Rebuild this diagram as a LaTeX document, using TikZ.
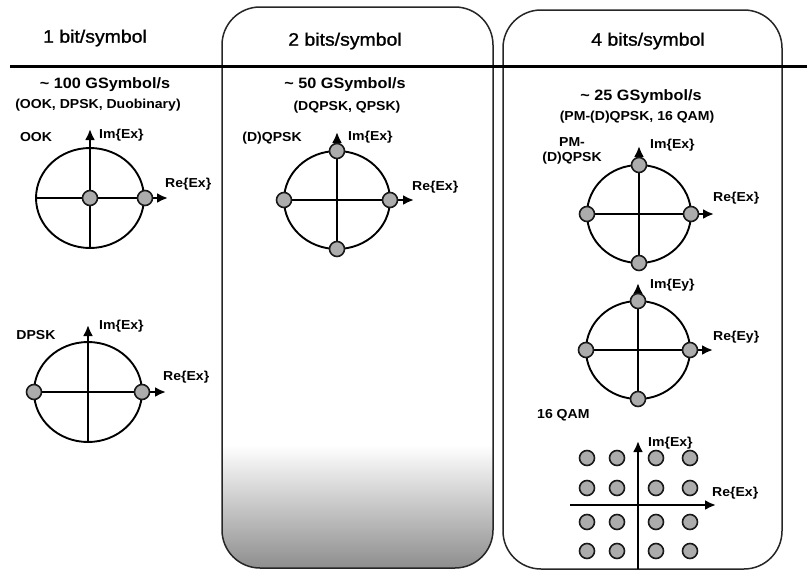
\documentclass[tikz,border=0pt]{standalone}
\usepackage{fontspec}
\setmainfont{Liberation Sans}[FakeStretch=1.08]
\newfontfamily\headfont{Liberation Sans}[FakeStretch=1.08, FakeBold=1.2]
\usetikzlibrary{arrows.meta}
\begin{document}
\begin{tikzpicture}[x=1pt,y=-1pt,
  panel/.style={draw=black!85, line width=1.5pt, rounded corners=38pt},
  rule/.style={draw=black, line width=3pt},
  title/.style={font=\headfont\fontsize{18}{20}\selectfont, inner sep=0pt},
  rate/.style={font=\bfseries\fontsize{15}{17}\selectfont, inner sep=0pt},
  fmt/.style={font=\bfseries\fontsize{13}{15}\selectfont, inner sep=0pt},
  lab/.style={font=\bfseries\fontsize{13}{15}\selectfont, inner sep=0pt, align=center},
  ring/.style={draw=black, line width=1.9pt},
  axis/.style={draw=black, line width=2.8pt, -{Latex[length=11pt,width=10pt]}},
  dot/.style={circle, fill=gray!65, draw=black!90, line width=1.6pt, minimum size=15pt, inner sep=0pt}]

\useasboundingbox (0,0) rectangle (807,574);

% ---------- panels ----------
\begin{scope}
  \clip[rounded corners=38pt] (222,7) rectangle (493,568);
  \shade[top color=white, bottom color=black!45] (222,445) rectangle (493,570);
\end{scope}
\draw[panel] (222,7) rectangle (493,568);
\draw[panel] (503,10) rectangle (782,569);

\coordinate (ruleL) at (10,66);
\coordinate (ruleR) at (807,66);
\draw[rule] (ruleL) -- (ruleR);

% ---------- headings ----------
\node[title] (t1) at (95,38) {1 bit/symbol};
\node[title] (t2) at (345,41) {2 bits/symbol};
\node[title] (t4) at (648,41) {4 bits/symbol};

\node[rate] (r1) at (105,85) {\textasciitilde\ 100 GSymbol/s};
\node[fmt]  (f1) at (98,105) {(OOK, DPSK, Duobinary)};
\node[rate] (r2) at (345,85) {\textasciitilde\ 50 GSymbol/s};
\node[fmt]  (f2) at (347,107) {(DQPSK, QPSK)};
\node[rate] (r4) at (641,97) {\textasciitilde\ 25 GSymbol/s};
\node[fmt]  (f4) at (637,117) {(PM-(D)QPSK, 16 QAM)};

% ---------- OOK ----------
\node[lab] (ookL) at (36,137) {OOK};
\draw[ring] (90,198) ellipse [x radius=54pt, y radius=50pt];
\coordinate (o-w) at (36,198);
\coordinate (o-c) at (90,198);
\coordinate (o-e) at (145,198);
\coordinate (o-re) at (168,198);
\coordinate (o-s) at (90,248);
\coordinate (o-im) at (90,129);
\draw[axis] (o-w) -- (o-re);
\draw[axis] (o-s) -- (o-im);
\node[dot] (o0) at (o-c) {};
\node[dot] (o1) at (o-e) {};
\node[lab, anchor=west] (ookIm) at (99,135) {Im\{Ex\}};
\node[lab, anchor=west] (ookRe) at (165,184) {Re\{Ex\}};

% ---------- DPSK ----------
\node[lab] (dpskL) at (36,335) {DPSK};
\draw[ring] (88,392) ellipse [x radius=54pt, y radius=50pt];
\coordinate (d-w) at (34,392);
\coordinate (d-e) at (142,392);
\coordinate (d-re) at (166,392);
\coordinate (d-s) at (88,442);
\coordinate (d-im) at (88,325);
\draw[axis] (d-w) -- (d-re);
\draw[axis] (d-s) -- (d-im);
\node[dot] (d0) at (d-w) {};
\node[dot] (d1) at (d-e) {};
\node[lab, anchor=west] (dpskIm) at (99,326) {Im\{Ex\}};
\node[lab, anchor=west] (dpskRe) at (163,377) {Re\{Ex\}};

% ---------- (D)QPSK ----------
\node[lab] (qpskL) at (272,138) {(D)QPSK};
\draw[ring] (337,200) ellipse [x radius=53pt, y radius=49pt];
\coordinate (q-n) at (337,151);
\coordinate (q-w) at (284,200);
\coordinate (q-e) at (390,200);
\coordinate (q-s) at (337,249);
\coordinate (q-re) at (414,200);
\coordinate (q-im) at (337,132);
\draw[axis] (q-w) -- (q-re);
\draw[axis] (q-s) -- (q-im);
\foreach \p in {n,w,e,s} \node[dot] (qd-\p) at (q-\p) {};
\node[lab, anchor=west] (qpskIm) at (348,137) {Im\{Ex\}};
\node[lab, anchor=west] (qpskRe) at (412,187) {Re\{Ex\}};

% ---------- PM-(D)QPSK, x polarisation ----------
\node[lab] (pmL) at (572,151) {PM-\\(D)QPSK};
\draw[ring] (639,214) ellipse [x radius=52pt, y radius=49pt];
\coordinate (px-n) at (639,165);
\coordinate (px-w) at (587,214);
\coordinate (px-e) at (691,214);
\coordinate (px-s) at (639,263);
\coordinate (px-re) at (714,214);
\coordinate (px-im) at (639,146);
\draw[axis] (px-w) -- (px-re);
\draw[axis] (px-s) -- (px-im);
\foreach \p in {n,w,e,s} \node[dot] (pxd-\p) at (px-\p) {};
\node[lab, anchor=west] (pxIm) at (650,145) {Im\{Ex\}};
\node[lab, anchor=west] (pxRe) at (713,198) {Re\{Ex\}};

% ---------- PM-(D)QPSK, y polarisation ----------
\draw[ring] (638,350) ellipse [x radius=52pt, y radius=49pt];
\coordinate (py-n) at (638,301);
\coordinate (py-w) at (586,350);
\coordinate (py-e) at (690,350);
\coordinate (py-s) at (638,399);
\coordinate (py-re) at (713,350);
\coordinate (py-im) at (638,283);
\draw[axis] (py-w) -- (py-re);
\draw[axis] (py-s) -- (py-im);
\foreach \p in {n,w,e,s} \node[dot] (pyd-\p) at (py-\p) {};
\node[lab, anchor=west] (pyIm) at (650,285) {Im\{Ey\}};
\node[lab, anchor=west] (pyRe) at (713,337) {Re\{Ey\}};

% ---------- 16 QAM ----------
\node[lab, anchor=west] (qamL) at (537,415) {16 QAM};
\coordinate (m-w) at (570,505);
\coordinate (m-re) at (716,505);
\coordinate (m-s) at (638,569);
\coordinate (m-im) at (638,441);
\draw[axis] (m-w) -- (m-re);
\draw[axis] (m-s) -- (m-im);
\foreach \cx [count=\i] in {587,617,656,690}
  \foreach \cy [count=\j] in {458,488,522,551}
    \node[dot, minimum size=15pt] (m\i\j) at (\cx,\cy) {};
\node[lab, anchor=west] (qamIm) at (648,443) {Im\{Ex\}};
\node[lab, anchor=west] (qamRe) at (712,493) {Re\{Ex\}};

\end{tikzpicture}
\end{document}
